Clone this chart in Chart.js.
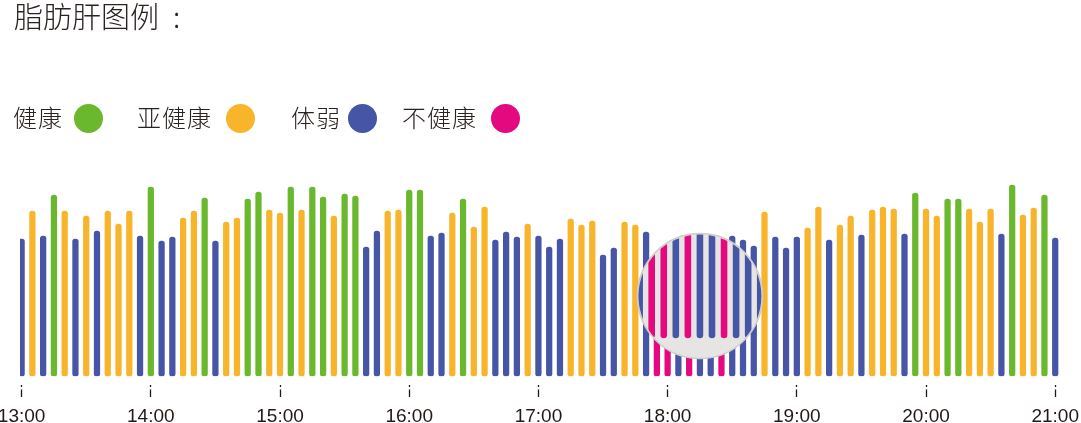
<!DOCTYPE html>
<html>
<head>
<meta charset="utf-8">
<script src="https://cdn.jsdelivr.net/npm/chart.js@4.4.1/dist/chart.umd.min.js"></script>
<style>
  html, body { margin: 0; padding: 0; background: #ffffff; overflow: hidden; }
  #wrap { position: relative; width: 1081px; height: 423px; overflow: hidden; }
  #title { position: absolute; left: 14px; top: 1px; font-family: "Noto Sans CJK SC", "Noto Sans", sans-serif; font-weight: 300; font-size: 29px; line-height: 29px; color: #2a2220; white-space: nowrap; }
  #title span { margin-left: 14px; }
  .lg { position: absolute; font-family: "Noto Sans CJK SC", "Noto Sans", sans-serif; font-weight: 300; font-size: 24px; line-height: 24px; letter-spacing: 1px; color: #2a2220; white-space: nowrap; top: 105px; }
  .dot { position: absolute; width: 29px; height: 29px; border-radius: 50%; top: 104px; }
  #chartBox { position: absolute; left: 0; top: 0; width: 1081px; height: 437px; }
</style>
</head>
<body>
<div id="wrap">
  <div id="chartBox"><canvas id="c"></canvas></div>
  <div id="title">脂肪肝图例<span>:</span></div>
  <div id="legend"></div>
</div>
<script>
// ---- data ----
const statusNames = ['健康', '亚健康', '体弱', '不健康'];
const statusColors = ['#6ab82e', '#f8b52b', '#4655a5', '#e4097e'];
const tickLabels = ['13:00', '14:00', '15:00', '16:00', '17:00', '18:00', '19:00', '20:00', '21:00'];

// one reading every 5 minutes, 13:00 - 21:00
const categories = [];
for (let h = 13; h <= 21; h++) {
  for (let m = 0; m < 60; m += 5) {
    if (h === 21 && m > 0) break;
    categories.push(h + ':' + String(m).padStart(2, '0'));
  }
}

const values = [
  137,165,140,181,165,137,160,145,165,152,
  165,140,189,135,139,158,165,178,135,154,
  158,177,184,166,163,189,166,189,179,160,
  182,180,129,145,165,166,186,186,140,143,
  163,177,149,169,136,144,139,152,140,129,
  137,157,151,155,121,128,154,151,144,118,
  124,132,120,136,134,122,140,136,130,164,
  139,128,139,148,169,136,151,160,141,166,
  169,167,142,183,167,160,177,177,167,154,
  167,142,191,161,168,181,138
];

// 0 健康, 1 亚健康, 2 体弱, 3 不健康
const status = [
  2,1,2,0,1,2,1,2,1,1,
  1,2,0,2,2,1,1,0,2,1,
  1,0,0,1,1,0,1,0,0,1,
  0,0,2,2,1,1,0,0,2,2,
  1,0,1,1,2,2,2,1,2,2,
  2,1,1,1,2,2,1,1,2,3,
  3,2,3,2,2,3,2,2,2,1,
  2,2,2,1,1,2,1,1,2,1,
  1,1,2,0,1,1,0,0,1,1,
  1,2,0,1,1,0,2
];

const lensCenterTime = '18:15';

// ---- legend (HTML text) ----
const legendText = [13, 137, 291, 402];
const legendDot = [74, 226, 348, 491];
const lg = document.getElementById('legend');
statusNames.forEach((n, i) => {
  const t = document.createElement('div');
  t.className = 'lg';
  t.style.left = legendText[i] + 'px';
  t.textContent = n;
  lg.appendChild(t);
  const d = document.createElement('div');
  d.className = 'dot';
  d.style.left = legendDot[i] + 'px';
  d.style.background = statusColors[i];
  lg.appendChild(d);
});

// ---- magnifier plugin ----
const lensPlugin = {
  id: 'lens',
  afterDatasetsDraw(chart) {
    const ctx = chart.ctx;
    const xs = chart.scales.x, ys = chart.scales.y;
    const ci = categories.indexOf(lensCenterTime);
    const cx = xs.getPixelForValue(ci);
    const cy = ys.getPixelForValue(80);
    const r = 62.5;
    const k = 1.12;
    const meta = chart.getDatasetMeta(0);
    ctx.save();
    ctx.beginPath();
    ctx.arc(cx, cy, r, 0, Math.PI * 2);
    ctx.fillStyle = '#e6e5e4';
    ctx.fill();
    ctx.lineWidth = 1.5;
    ctx.strokeStyle = '#cfcdcc';
    ctx.stroke();
    ctx.beginPath();
    ctx.arc(cx, cy, r - 1, 0, Math.PI * 2);
    ctx.clip();
    const shift = (ys.getPixelForValue(0) - cy) * (k - 1) + 38;
    meta.data.forEach((el, i) => {
      const x = cx + (el.x - cx) * k;
      if (Math.abs(x - cx) > r + 6) return;
      const w = 6.6;
      const top = cy + (el.y - cy) * k - shift;
      const bot = cy + (el.base - cy) * k - shift;
      ctx.beginPath();
      ctx.roundRect(x - w / 2, top, w, bot - top, w / 2);
      ctx.fillStyle = statusColors[status[i]];
      ctx.fill();
    });
    ctx.restore();
  }
};

const points = values.map((v, i) => ({ x: i, y: v }));

new Chart(document.getElementById('c'), {
  type: 'bar',
  data: {
    labels: categories,
    datasets: [{
      label: '脂肪肝',
      data: points,
      backgroundColor: status.map(s => statusColors[s]),
      barThickness: 5.6,
      borderRadius: 3,
      borderSkipped: false,
      borderWidth: 0
    }]
  },
  options: {
    responsive: true,
    maintainAspectRatio: false,
    animation: false,
    layout: { padding: { top: 176, left: 20, right: 22, bottom: 0 } },
    plugins: { legend: { display: false }, tooltip: { enabled: false } },
    scales: {
      x: {
        type: 'linear',
        min: -0.15,
        max: 96.35,
        offset: false,
        afterBuildTicks(scale) {
          scale.ticks = tickLabels.map((t, i) => ({ value: i * 12 }));
        },
        afterFit(scale) {
          scale.paddingLeft = 0;
          scale.paddingRight = 0;
        },
        ticks: {
          autoSkip: false,
          maxRotation: 0,
          padding: 8.5,
          color: '#231815',
          font: { family: '"Liberation Sans", Arial, sans-serif', size: 19 },
          callback: (v) => tickLabels[Math.round(v / 12)]
        },
        grid: {
          display: true,
          offset: false,
          drawOnChartArea: false,
          drawTicks: true,
          tickLength: 21,
          tickColor: '#231815',
          tickWidth: 1.3,
          tickBorderDash: [0, 9, 2, 2.5, 7.5, 40]
        },
        border: { display: false }
      },
      y: {
        display: false,
        min: 0,
        max: 200
      }
    }
  },
  plugins: [lensPlugin]
});
</script>
</body>
</html>
